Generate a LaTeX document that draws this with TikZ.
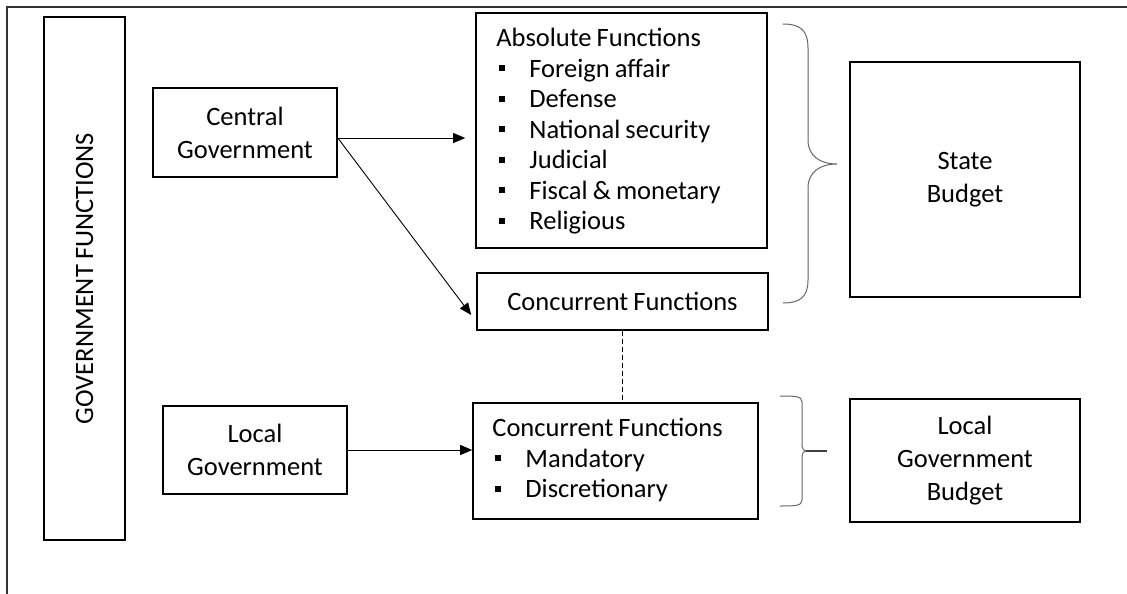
\documentclass[tikz,border=0pt]{standalone}
\usepackage{fontspec}
\setmainfont[WordSpace=0.85]{Carlito}
\usetikzlibrary{positioning, arrows.meta}

\newcommand{\itm}[1]{\makebox[33pt][l]{\hspace{3pt}\rule[6pt]{6pt}{6pt}}#1}

\begin{document}
\begin{tikzpicture}[x=1pt, y=-1pt,
    box/.style={draw, line width=1.6pt, inner sep=0pt, align=center,
                font=\fontsize{26.5}{33}\selectfont},
    listtext/.style={inner sep=0pt, align=left, anchor=north west,
                font=\fontsize{26.5}{30.5}\selectfont},
    link/.style={-{Triangle[length=12pt,width=10pt]}, line width=0.9pt},
    curly/.style={draw=black!60, line width=1pt}]
  \useasboundingbox (0,0) rectangle (1127,594);
  % frame
  \draw[line width=1.2pt, black!80] (7,594) -- (7,7) -- (1127,7);

  \node[box, rotate=90, minimum width=523, minimum height=81] (govfn) at (84.5,278.5) {GOVERNMENT FUNCTIONS};
  \node[box, minimum width=184, minimum height=89] (central) at (245,132.5) {Central\\Government};
  \node[box, minimum width=184, minimum height=88] (local) at (255,450) {Local\\Government};

  \node[box, minimum width=291, minimum height=235] (absolute) at (621.5,130.5) {};
  \node[listtext] (absolutetext) at ([shift={(21,16)}]absolute.north west)
    {Absolute Functions\\ \itm{Foreign affair}\\ \itm{Defense}\\ \itm{National security}\\
     \itm{Judicial}\\ \itm{Fiscal \& monetary}\\ \itm{Religious}};
  \node[box, minimum width=291, minimum height=57] (concA) at (622.5,301.5) {Concurrent Functions};
  \node[box, minimum width=285, minimum height=116] (concB) at (615.5,461) {};
  \node[listtext] (concBtext) at ([shift={(20,16)}]concB.north west)
    {Concurrent Functions\\ \itm{Mandatory}\\ \itm{Discretionary}};

  \node[box, minimum width=230, minimum height=235] (state) at (965,179.5) {State\\Budget};
  \node[box, minimum width=230, minimum height=123] (localbud) at (965,460.5) {Local\\Government\\Budget};

  % arrows
  \draw[link, shorten >=10pt] ([yshift=-5.5pt]central.east) -- ([yshift=-5.5pt]central.east -| absolute.west);
  \draw[link] ([yshift=-5.5pt]central.east) -- ([xshift=-5pt,yshift=-13.5pt]concA.west);
  \draw[link] (local.east) -- (local.east -| concB.west);
  \draw[line width=0.9pt, dash pattern=on 5pt off 3pt] (concA.south) -- (concA.south |- concB.north);

  % braces
  \coordinate (bigtop) at (783,24);
  \coordinate (bigtip) at (837,164);
  \coordinate (bigbot) at (783,303);
  \draw[curly] (bigtop) .. controls (800,24) and (808,30) .. (808,48) -- (808,140)
    .. controls (808,156) and (820,164) .. (bigtip)
    .. controls (820,164) and (808,172) .. (808,188) -- (808,280)
    .. controls (808,297) and (800,303) .. (bigbot);
  \coordinate (smtop) at (780,396);
  \coordinate (smtip) at (806,451);
  \coordinate (smbot) at (780,506);
  \coordinate (smend) at (827,451);
  \draw[curly] (smtop) .. controls (795,396) and (802,396) .. (802,402) -- (802,446)
    .. controls (802,449) and (804,451) .. (smtip)
    .. controls (804,451) and (802,453) .. (802,456) -- (802,500)
    .. controls (802,506) and (795,506) .. (smbot);
  \draw[curly, line width=1.6pt, draw=black!75] (smtip) -- (smend);
\end{tikzpicture}
\end{document}
